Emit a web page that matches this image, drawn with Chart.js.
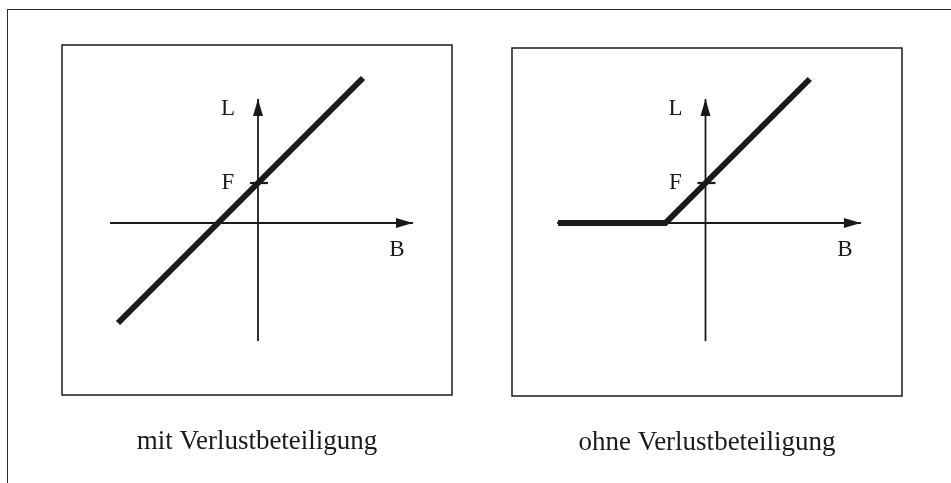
<!DOCTYPE html>
<html>
<head>
<meta charset="utf-8">
<script src="https://cdn.jsdelivr.net/npm/chart.js@4.4.0/dist/chart.umd.min.js"></script>
<style>
    html, body { margin: 0; padding: 0; background: #fff; }
    #frame {
        position: absolute; left: 7px; top: 9px; width: 944px; height: 474px;
        border-top: 1.5px solid #2a2a2a; border-left: 1.5px solid #2a2a2a;
    }
    canvas { position: absolute; }
    #panelWith { left: 57px; top: 40px; }
    #panelWithout { left: 507px; top: 43px; }
</style>
</head>
<body>
<div id="frame"></div>
<canvas id="panelWith" width="400" height="443"></canvas>
<canvas id="panelWithout" width="400" height="440"></canvas>
<script>
// B = Bemessungsgrundlage (x), L = Leistung (y), F = Fixum
const fixum = 4;
const bAxis = [-14.8, 15.5];
const lAxis = [-11.8, 12.4];

// mit Verlustbeteiligung: durchgehende Gerade
const xWithLoss = [-14, 10.5];
const yWithLoss = [-10, 14.5];

// ohne Verlustbeteiligung: links flach, dann Anstieg
const xWithoutLoss = [-14.7, -4, 10.4];
const yWithoutLoss = [0, 0, 14.4];

const axisLabels = ['L', 'F', 'B'];
const labelX = [-3, -3, 13.9];
const labelY = [11.4, 4, -2.7];
const captions = ['mit Verlustbeteiligung', 'ohne Verlustbeteiligung'];

const ink = '#1a1a1a';

function toPoints(xs, ys) {
    return xs.map((x, i) => ({ x: x, y: ys[i] }));
}

function drawArrow(ctx, x, y, dx, dy) {
    const len = 17, half = 5;
    ctx.beginPath();
    ctx.moveTo(x, y);
    ctx.lineTo(x - dx * len - dy * half, y - dy * len + dx * half);
    ctx.lineTo(x - dx * len + dy * half, y - dy * len - dx * half);
    ctx.closePath();
    ctx.fill();
}

const sketchPlugin = {
    id: 'sketch',
    beforeDatasetsDraw(chart) {
        const ctx = chart.ctx;
        const a = chart.chartArea;
        ctx.save();
        ctx.strokeStyle = ink;
        ctx.lineWidth = 1.5;
        ctx.strokeRect(a.left, a.top, a.right - a.left, a.bottom - a.top);
        ctx.restore();
    },
    afterDatasetsDraw(chart, args, opts) {
        const ctx = chart.ctx;
        const xs = chart.scales.x, ys = chart.scales.y;
        const a = chart.chartArea;
        ctx.save();
        ctx.fillStyle = ink;
        // arrow heads at the positive ends of both axes
        drawArrow(ctx, xs.getPixelForValue(bAxis[1]), ys.getPixelForValue(0), 1, 0);
        drawArrow(ctx, xs.getPixelForValue(0), ys.getPixelForValue(lAxis[1]), 0, -1);

        ctx.textAlign = 'center';
        ctx.textBaseline = 'middle';
        ctx.font = '23px "Liberation Serif", "DejaVu Serif", serif';
        axisLabels.forEach((t, i) => {
            ctx.fillText(t, xs.getPixelForValue(labelX[i]), ys.getPixelForValue(labelY[i]));
        });

        ctx.font = '27px "Liberation Serif", "DejaVu Serif", serif';
        ctx.fillText(opts.caption, (a.left + a.right) / 2, a.bottom + 47);
        ctx.restore();
    }
};

function makePanel(canvasId, xs, ys, caption, xRange, yRange, pad) {
    const ctx = document.getElementById(canvasId).getContext('2d');
    const axisStyle = {
        showLine: true, pointRadius: 0, borderColor: ink, borderWidth: 1.8, fill: false
    };
    return new Chart(ctx, {
        type: 'scatter',
        data: {
            datasets: [
                Object.assign({ data: toPoints(bAxis, [0, 0]) }, axisStyle),
                Object.assign({ data: toPoints([0, 0], lAxis) }, axisStyle),
                Object.assign({ data: toPoints([-0.8, 1.0], [fixum, fixum]) }, axisStyle, { borderWidth: 2.2 }),
                {
                    data: toPoints(xs, ys),
                    showLine: true,
                    pointRadius: 0,
                    borderColor: ink,
                    borderWidth: 6,
                    borderJoinStyle: 'miter',
                    tension: 0,
                    fill: false
                }
            ]
        },
        options: {
            responsive: false,
            animation: false,
            layout: { padding: pad },
            plugins: {
                legend: { display: false },
                tooltip: { enabled: false },
                sketch: { caption: caption }
            },
            scales: {
                x: { type: 'linear', min: xRange[0], max: xRange[1], display: false },
                y: { type: 'linear', min: yRange[0], max: yRange[1], display: false }
            }
        },
        plugins: [sketchPlugin]
    });
}

makePanel('panelWith', xWithLoss, yWithLoss, captions[0],
    [-19.6, 19.4], [-17.2, 17.8], { left: 5, right: 5, top: 5, bottom: 88 });
makePanel('panelWithout', xWithoutLoss, yWithoutLoss, captions[1],
    [-19.3, 19.6], [-17.3, 17.5], { left: 5, right: 5, top: 5, bottom: 87 });
</script>
</body>
</html>
